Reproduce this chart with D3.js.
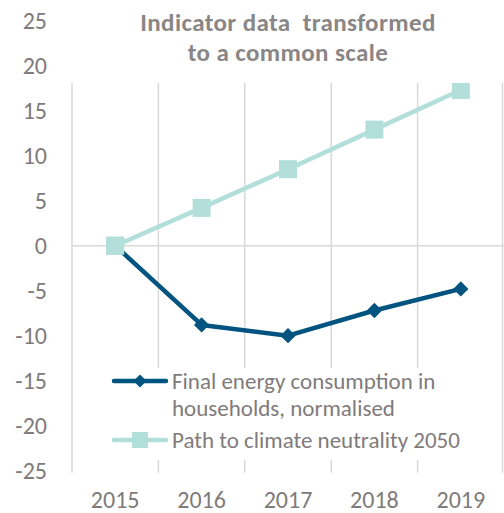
<!DOCTYPE html>
<html><head><meta charset="utf-8">
<script src="https://cdn.jsdelivr.net/npm/d3@7"></script>
<style>body{margin:0;background:#fff}svg{display:block}text{font-family:Carlito,Lato,"Open Sans",sans-serif}</style>
</head><body><svg id="c" width="504" height="513"></svg>
<script>
const years = ["2015","2016","2017","2018","2019"];
const energy = [0, -8.8, -10.0, -7.2, -4.8];
const path2050 = [0, 4.2, 8.5, 12.9, 17.3];
const yTicks = [25,20,15,10,5,0,-5,-10,-15,-20,-25];
const titleLines = ["Indicator data  transformed","to a common scale"];
const seriesNames = [["Final energy consumption in","households, normalised"],["Path to climate neutrality 2050"]];

const svg = d3.select("#c");
const x = d3.scaleBand().domain(years).range([72, 504]);
const y = d3.scaleLinear().domain([-25,25]).range([470.7, 20.7]);
const gray = "#7f7b7b", grid = "#d9d9d9";
const cDark = "#00547f", cLight = "#b3dfdb";

// vertical gridlines at category boundaries
const bounds = years.map(d => x(d)).concat([x.range()[1]-1.5]);
svg.append("g").selectAll("line").data(bounds).join("line")
  .attr("x1", d=>d).attr("x2", d=>d).attr("y1", y(25)).attr("y2", y(-25)+2)
  .attr("stroke", grid).attr("stroke-width", 1.5);
// zero axis line
svg.append("line").attr("x1",72).attr("x2",504).attr("y1",y(0)).attr("y2",y(0))
  .attr("stroke", grid).attr("stroke-width", 1.5);

const cx = d => x(d) + x.bandwidth()/2;
const line = d3.line().x((d,i)=>cx(years[i])).y(d=>y(d));

// series
svg.append("path").datum(path2050).attr("d", line).attr("fill","none").attr("stroke",cLight).attr("stroke-width",4.5);
svg.append("g").selectAll("rect").data(path2050).join("rect")
  .attr("x",(d,i)=>cx(years[i])-9).attr("y",d=>y(d)-9).attr("width",18).attr("height",18).attr("fill",cLight);
svg.append("path").datum(energy).attr("d", line).attr("fill","none").attr("stroke",cDark).attr("stroke-width",4.5).attr("stroke-linejoin","round");
const diamond = d3.symbol().type(d3.symbolDiamond2).size(150);
svg.append("g").selectAll("path").data(energy).join("path")
  .attr("d", diamond).attr("transform",(d,i)=>`translate(${cx(years[i])},${y(d)})`).attr("fill",cDark);
svg.append("rect").attr("x",cx(years[0])-9).attr("y",y(path2050[0])-9).attr("width",18).attr("height",18).attr("fill",cLight);

// title box
svg.append("rect").attr("x",60).attr("y",0).attr("width",444).attr("height",83).attr("fill","#fff");
svg.append("g").selectAll("text").data(titleLines).join("text")
  .attr("x",288).attr("y",(d,i)=>30.5+i*30).attr("text-anchor","middle")
  .attr("fill","#8a8686").style("font-size","25px").style("font-weight","bold").style("letter-spacing","0.4px")
  .attr("xml:space","preserve").text(d=>d);

// y axis labels
const yAxis = d3.axisLeft(y).tickValues(yTicks).tickSize(0).tickPadding(0).tickFormat(d => String(d));
const ya = svg.append("g").attr("transform","translate(47,0)").call(yAxis);
ya.select(".domain").remove();
ya.selectAll("text").attr("fill", gray).style("font-size","24px").attr("dy","0.33em")
  .style("font-family","Carlito,Lato,sans-serif");

// x axis labels
const xAxis = d3.axisBottom(x).tickSize(0).tickPadding(0);
const xa = svg.append("g").attr("transform","translate(0,507.5)").call(xAxis);
xa.select(".domain").remove();
xa.selectAll("text").attr("fill", gray).style("font-size","24px").attr("dy","0")
  .style("font-family","Carlito,Lato,sans-serif");

// legend
const lg = svg.append("g");
lg.append("rect").attr("x",108).attr("y",368).attr("width",380).attr("height",92).attr("fill","#fff");
const legRows = [{c:cDark, y:381, m:"d"},{c:cLight, y:440, m:"s"}];
legRows.forEach((r,k)=>{
  lg.append("line").attr("x1",114).attr("x2",166).attr("y1",r.y).attr("y2",r.y).attr("stroke",r.c).attr("stroke-width",4.5).attr("stroke-linecap","round");
  if (r.m==="d") lg.append("path").attr("d",d3.symbol().type(d3.symbolDiamond2).size(110)).attr("transform",`translate(140,${r.y})`).attr("fill",r.c);
  else lg.append("rect").attr("x",132).attr("y",r.y-8).attr("width",16).attr("height",16).attr("fill",r.c);
  seriesNames[k].forEach((t,j)=>{
    lg.append("text").attr("x",172).attr("y",r.y+8+j*27).attr("fill",gray)
      .style("font-size","23px").text(t);
  });
});
</script></body></html>
